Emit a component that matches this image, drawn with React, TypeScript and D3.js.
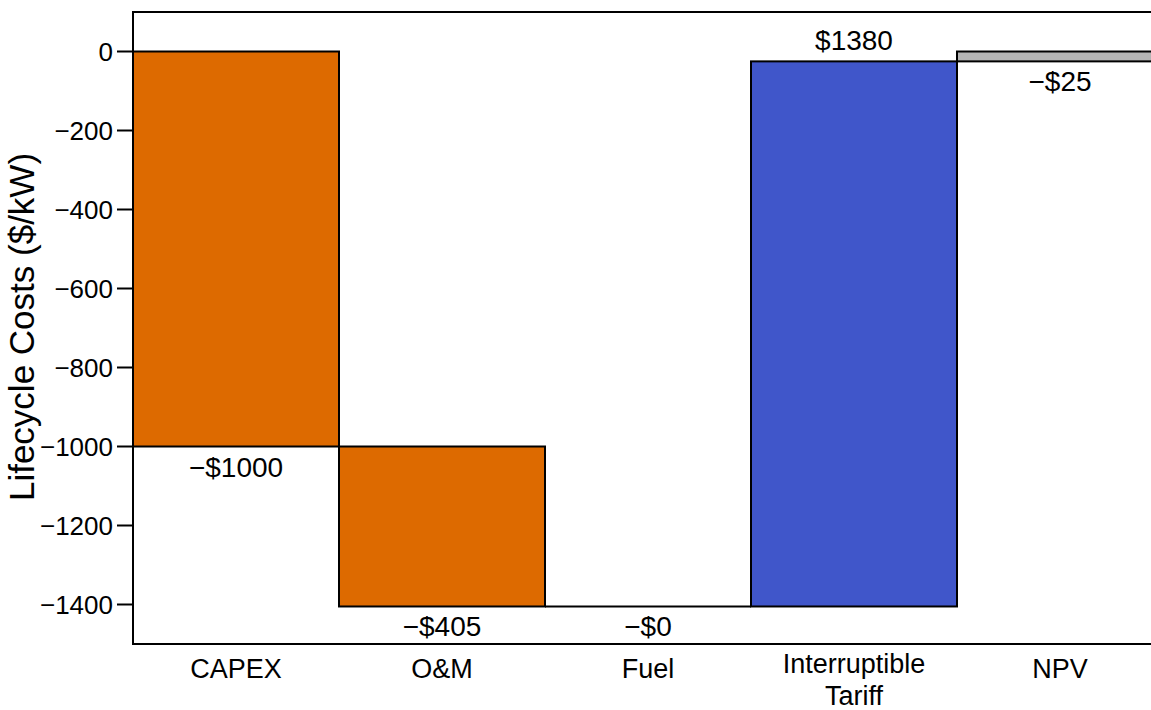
import React from "react";
import * as d3 from "d3";

const categories = ["CAPEX", "O&M", "Fuel", "Interruptible\nTariff", "NPV"];
const deltas = [-1000, -405, -0, 1380, -25];
const labels = ["\u2212$1000", "\u2212$405", "\u2212$0", "$1380", "\u2212$25"];
const kinds = ["cost", "cost", "cost", "revenue", "total"];
const yTicks = [0, -200, -400, -600, -800, -1000, -1200, -1400];

const W = 1151, H = 710;
const left = 133, top = 12, bottom = 644, right = 1163;
const colors: Record<string, string> = { cost: "#dd6a00", revenue: "#4056ca", total: "#b4b4b4" };
const FONT = "Liberation Sans, Arial, sans-serif";

export default function App() {
  const x = d3.scaleBand<string>().domain(categories).range([left, right]).padding(0);
  const y = d3.scaleLinear().domain([-1500, 100]).range([bottom, top]);

  let cum = 0;
  const bars = categories.map((c, i) => {
    let y0: number, y1: number;
    if (kinds[i] === "total") {
      y0 = 0; y1 = cum;
    } else {
      y0 = cum; y1 = cum + deltas[i]; cum = y1;
    }
    return { c, i, y0, y1, hi: Math.max(y0, y1), lo: Math.min(y0, y1) };
  });

  return (
    <svg width={W} height={H} style={{ position: "absolute", left: 0, top: 0, background: "#fff" }} fontFamily={FONT}>
      {bars.map((b) => {
        const h = y(b.lo) - y(b.hi);
        if (h <= 0.5) {
          return (
            <line key={b.c} x1={x(b.c)} x2={(x(b.c) as number) + x.bandwidth()} y1={y(b.hi)} y2={y(b.hi)}
              stroke="#000" strokeWidth={2} />
          );
        }
        return (
          <rect key={b.c} x={x(b.c)} y={y(b.hi)} width={x.bandwidth()} height={h}
            fill={colors[kinds[b.i]]} stroke="#000" strokeWidth={2} />
        );
      })}
      {bars.map((b) => {
        const cx = (x(b.c) as number) + x.bandwidth() / 2;
        const neg = deltas[b.i] <= 0;
        const yy = neg ? y(b.lo) + 30 : y(b.hi) - 11;
        return (
          <text key={"l" + b.c} x={cx} y={yy} textAnchor="middle" fontSize={28} fill="#000">{labels[b.i]}</text>
        );
      })}
      {/* frame */}
      <line x1={left} x2={left} y1={top} y2={bottom} stroke="#000" strokeWidth={2} />
      <line x1={left - 1} x2={W + 5} y1={top} y2={top} stroke="#000" strokeWidth={2} />
      <line x1={left - 1} x2={W + 5} y1={bottom} y2={bottom} stroke="#000" strokeWidth={2} />
      {/* y ticks */}
      {yTicks.map((t) => (
        <g key={t}>
          <line x1={left - 16} x2={left} y1={y(t)} y2={y(t)} stroke="#000" strokeWidth={2} />
          <text x={left - 20} y={y(t) + 9} textAnchor="end" fontSize={26} fill="#000">
            {t < 0 ? "\u2212" + Math.abs(t) : String(t)}
          </text>
        </g>
      ))}
      {/* category labels */}
      {categories.map((c) => {
        const cx = (x(c) as number) + x.bandwidth() / 2;
        const lines = c.split("\n");
        const y0 = lines.length > 1 ? 673 : 678;
        return (
          <text key={"c" + c} x={cx} textAnchor="middle" fontSize={27} fill="#000">
            {lines.map((ln, k) => (
              <tspan key={k} x={cx} y={y0 + k * 32}>{ln}</tspan>
            ))}
          </text>
        );
      })}
      <text transform={`translate(34, 327) rotate(-90)`} textAnchor="middle" fontSize={35} fill="#000">
        Lifecycle Costs ($/kW)
      </text>
    </svg>
  );
}
